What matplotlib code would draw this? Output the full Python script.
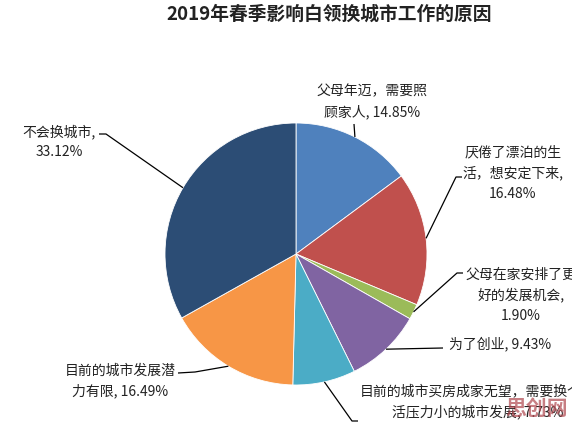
import matplotlib
matplotlib.use("Agg")
import matplotlib.pyplot as plt
import numpy as np

plt.rcParams['font.family'] = ['Noto Sans CJK SC', 'DejaVu Sans']

title = "2019年春季影响白领换城市工作的原因"
categories = [
    "父母年迈，需要照\n顾家人",
    "厌倦了漂泊的生\n活，想安定下来,",
    "父母在家安排了更\n好的发展机会,",
    "为了创业",
    "目前的城市买房成家无望，需要换个生\n活压力小的城市发展",
    "目前的城市发展潜\n力有限",
    "不会换城市,",
]
values = [14.85, 16.48, 1.90, 9.43, 7.73, 16.49, 33.12]
colors = ["#4F81BD", "#C0504D", "#9BBB59", "#8064A2", "#4BACC6", "#F79646", "#2C4D75"]
# how the percentage joins the category text: ", " on same line or newline
joiners = [", ", "\n", "\n", ", ", ", ", ", ", "\n"]

W, H = 572, 424
fig = plt.figure(figsize=(W / 100, H / 100), dpi=100)
ax = fig.add_axes([0, 0, 1, 1])

def P(x, y):
    return (x, H - y)

cx, cy = 296, 254
R = 131
wedges, _ = ax.pie(values, colors=colors, startangle=90, counterclock=False,
                   center=P(cx, cy), radius=R, frame=True,
                   wedgeprops=dict(edgecolor="white", linewidth=0.6))
ax.set_xlim(0, W)
ax.set_ylim(0, H)
ax.set_aspect("equal")
ax.axis("off")

# label layout (pixel coords of text centre) and leader elbow points
label_pos = [(372, 102), (513, 173), (521, 295), (500, 344), (478, 402), (120, 381), (59, 142)]
elbows = [
    [(354, 124)],
    [(456, 177), (462, 177)],
    [(457, 273), (463, 273)],
    [(443, 348)],
    [(352, 421), (358, 421)],
    [(195, 372), (178, 373)],
    [(106, 134), (99, 134)],
]

for w, cat, v, j, pos, elb in zip(wedges, categories, values, joiners, label_pos, elbows):
    mid = np.deg2rad((w.theta1 + w.theta2) / 2)
    ex = w.center[0] + w.r * np.cos(mid)
    ey = w.center[1] + w.r * np.sin(mid)
    pts = [(ex, ey)] + [P(*p) for p in elb]
    xs, ys = zip(*pts)
    ax.plot(xs, ys, color="black", lw=0.9, solid_capstyle="butt")
    ax.text(*P(*pos), f"{cat}{j}{v:.2f}%", ha="center", va="center", fontsize=10,
            linespacing=1.55, multialignment="center", color="#222222")

ax.text(*P(329, 14), title, ha="center", va="center", fontsize=13.5,
        fontweight="bold", color="#222222")

ax.text(*P(537, 408), "思创网", ha="center", va="center", fontsize=15,
        fontweight="bold", color="#b0484f", alpha=0.7)

fig.savefig("out.png", dpi=100)
